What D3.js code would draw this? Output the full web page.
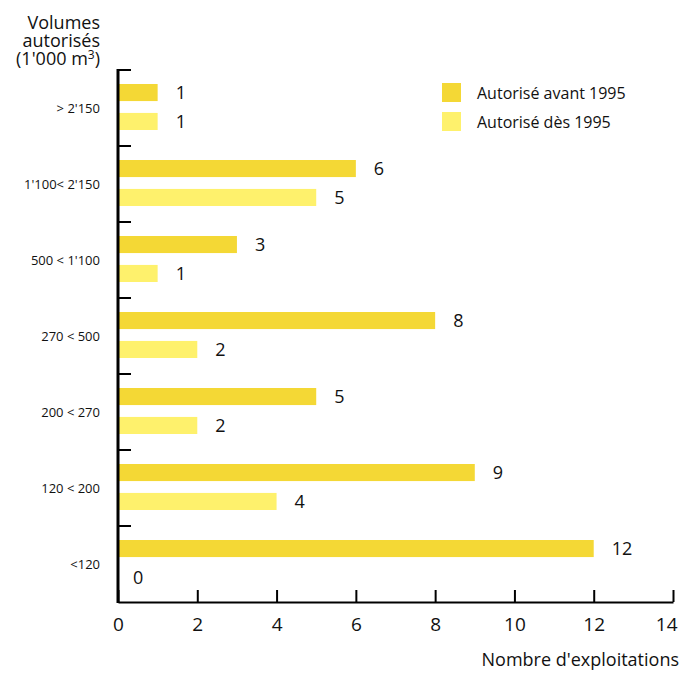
<!DOCTYPE html>
<html>
<head>
<meta charset="utf-8">
<script src="https://cdn.jsdelivr.net/npm/d3@7"></script>
<style>
  body { margin: 0; background: #fff; }
  svg text { font-family: "Open Sans", "Noto Sans", sans-serif; fill: #111; }
</style>
</head>
<body>
<div class="chart"></div>
<script>
var categories = ["> 2'150", "1'100< 2'150", "500 < 1'100", "270 < 500", "200 < 270", "120 < 200", "<120"];
var series = ["Autorisé avant 1995", "Autorisé dès 1995"];
var avant = [1, 6, 3, 8, 5, 9, 12];
var des = [1, 5, 1, 2, 2, 4, 0];
var xTicks = [0, 2, 4, 6, 8, 10, 12, 14];

var width = 681,
    height = 677;

var colors = ["#f4d835", "#fef16c"];

var svg = d3.select(".chart").append("svg")
    .attr("width", width)
    .attr("height", height);

var x = d3.scaleLinear()
    .domain([0, 14])
    .range([118, 673]);

var y = d3.scaleBand()
    .domain(categories)
    .range([70, 602]);

var inner = d3.scaleBand()
    .domain(series)
    .range([14, 60])
    .paddingInner(0.41);

var rows = categories.map(function(c, i) {
  return [
    {cat: c, s: series[0], v: avant[i]},
    {cat: c, s: series[1], v: des[i]}
  ];
});

// bars
var g = svg.append("g").attr("class", "bars");
rows.forEach(function(r) {
  g.selectAll(null)
      .data(r)
      .enter()
      .append("rect")
      .attr("x", x(0))
      .attr("y", function(d) { return y(d.cat) + inner(d.s); })
      .attr("width", function(d) { return x(d.v) - x(0); })
      .attr("height", inner.bandwidth())
      .attr("fill", function(d, i) { return colors[i]; });

  g.selectAll(null)
      .data(r)
      .enter()
      .append("text")
      .attr("x", function(d) { return x(d.v) + (d.v === 0 ? 15 : 18); })
      .attr("y", function(d) { return y(d.cat) + inner(d.s) + inner.bandwidth() / 2; })
      .attr("dy", "0.35em")
      .style("font-size", "18px")
      .text(function(d) { return d.v; });
});

// x axis
var xAxis = d3.axisBottom(x)
    .tickValues(xTicks)
    .tickSizeInner(-12)
    .tickSizeOuter(0)
    .tickPadding(16);

var gx = svg.append("g")
    .attr("transform", "translate(0,602)")
    .call(xAxis);
gx.select(".domain").attr("stroke", "#000").attr("stroke-width", 2);
gx.selectAll(".tick line").attr("stroke", "#000").attr("stroke-width", 2);
gx.selectAll(".tick text")
    .style("font-size", "19px")
    .style("font-family", "'Open Sans', sans-serif")
    .attr("fill", "#111");
// last label is pulled in so it stays inside the frame
gx.selectAll(".tick text")
    .filter(function(d) { return d === 14; })
    .attr("text-anchor", "end")
    .attr("x", 4);

// y axis
svg.append("line")
    .attr("x1", 118).attr("x2", 118)
    .attr("y1", 69).attr("y2", 603)
    .attr("stroke", "#000")
    .attr("stroke-width", 3);

svg.selectAll(".ytick")
    .data(categories)
    .enter()
    .append("line")
    .attr("class", "ytick")
    .attr("x1", 118).attr("x2", 131)
    .attr("y1", function(d) { return y(d); })
    .attr("y2", function(d) { return y(d); })
    .attr("stroke", "#000")
    .attr("stroke-width", 2);

svg.selectAll(".ylabel")
    .data(categories)
    .enter()
    .append("text")
    .attr("class", "ylabel")
    .attr("x", 100)
    .attr("y", function(d) { return y(d) + y.bandwidth() / 2; })
    .attr("dy", "0.35em")
    .attr("text-anchor", "end")
    .style("font-size", "13px")
    .text(function(d) { return d; });

// y title
var title = svg.append("text")
    .attr("text-anchor", "end")
    .style("font-size", "18px");
title.append("tspan").attr("x", 100).attr("y", 29).text("Volumes");
title.append("tspan").attr("x", 100).attr("y", 47).text("autorisés");
var t3 = title.append("tspan").attr("x", 100).attr("y", 65).text("(1'000 m");
t3.append("tspan").attr("dy", -6).style("font-size", "12px").text("3");
title.append("tspan").attr("dy", 6).text(")");

// x title
svg.append("text")
    .attr("x", 679)
    .attr("y", 666)
    .attr("text-anchor", "end")
    .style("font-size", "18px")
    .text("Nombre d'exploitations");

// legend
var legend = svg.selectAll(".legend")
    .data(series)
    .enter()
    .append("g")
    .attr("class", "legend")
    .attr("transform", function(d, i) { return "translate(442," + (83 + i * 29) + ")"; });

legend.append("rect")
    .attr("width", 19)
    .attr("height", 19)
    .attr("fill", function(d, i) { return colors[i]; });

legend.append("text")
    .attr("x", 35)
    .attr("y", 10)
    .attr("dy", "0.35em")
    .style("font-size", "16px")
    .text(function(d) { return d; });
</script>
</body>
</html>
